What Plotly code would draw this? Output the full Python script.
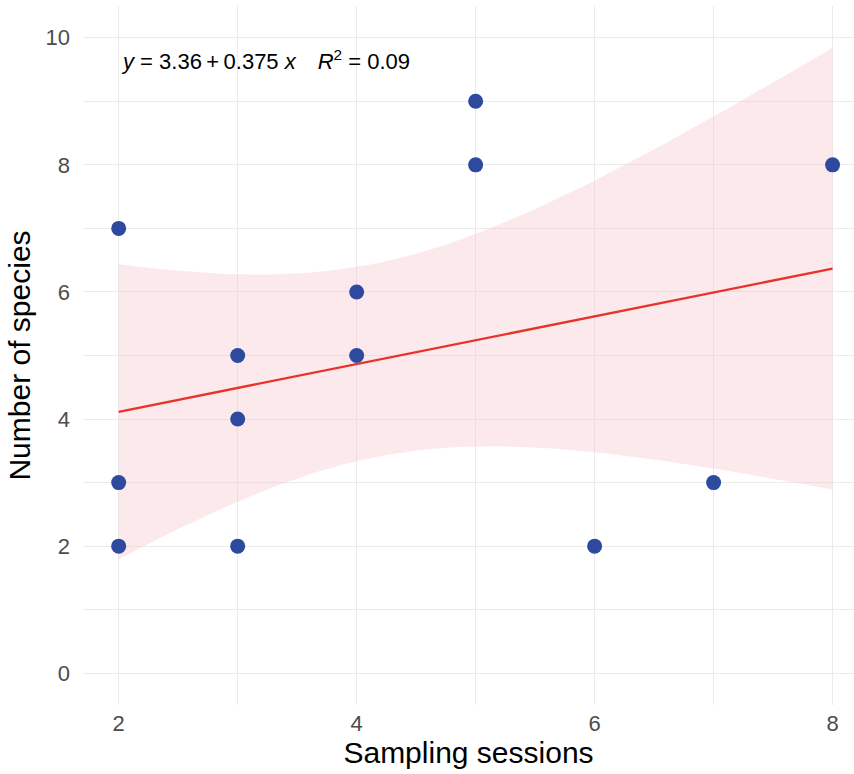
import numpy as np
import plotly.graph_objects as go

# Sampling effort vs. species richness per site
sessions = [2, 2, 2, 3, 3, 3, 4, 4, 5, 5, 6, 7, 8]
species = [7, 3, 2, 5, 4, 2, 6, 5, 9, 8, 2, 3, 8]
x_ticks = [2, 4, 6, 8]
y_ticks = [0, 2, 4, 6, 8, 10]

x = np.array(sessions, dtype=float)
y = np.array(species, dtype=float)
n = len(x)

# Ordinary least squares fit with 95% confidence band
xbar, ybar = x.mean(), y.mean()
sxx = ((x - xbar) ** 2).sum()
sxy = ((x - xbar) * (y - ybar)).sum()
syy = ((y - ybar) ** 2).sum()
slope = sxy / sxx
intercept = ybar - slope * xbar
r2 = sxy ** 2 / (sxx * syy)
s = np.sqrt((syy - sxy ** 2 / sxx) / (n - 2))
t_crit = 2.200985  # t(0.975, df = 11)

xg = np.linspace(x.min(), x.max(), 80)
fit = intercept + slope * xg
half = t_crit * s * np.sqrt(1 / n + (xg - xbar) ** 2 / sxx)
lower, upper = fit - half, fit + half

fig = go.Figure()
fig.add_trace(go.Scatter(
    x=np.concatenate([xg, xg[::-1]]),
    y=np.concatenate([upper, lower[::-1]]),
    fill="toself", fillcolor="rgba(246,196,206,0.38)",
    line=dict(width=0), mode="lines", hoverinfo="skip", showlegend=False,
))
fig.add_trace(go.Scatter(
    x=xg, y=fit, mode="lines",
    line=dict(color="#E8322B", width=2.3), showlegend=False,
))
fig.add_trace(go.Scatter(
    x=sessions, y=species, mode="markers",
    marker=dict(color="#2E4A9E", size=15, line=dict(width=0)),
    showlegend=False,
))

sp = "\u2009"
label = (f"<i>y</i> = {intercept:.2f}{sp}+{sp}{slope:.3f} <i>x</i>"
         f"\u2003<i>R</i><sup>2</sup> = {r2:.2f}")
fig.add_annotation(
    x=2.0, y=9.65, xref="x", yref="y", text=label, showarrow=False,
    xanchor="left", yanchor="middle",
    font=dict(family="Liberation Sans, Arial", size=22, color="#000000"),
)

grid = "#EBEBEB"
fig.update_layout(
    width=854, height=774,
    margin=dict(l=83, r=0, t=6, b=69),
    plot_bgcolor="white", paper_bgcolor="white",
    font=dict(family="Liberation Sans, Arial", color="#4D4D4D"),
    xaxis=dict(
        range=[1.7, 8.18], tickvals=x_ticks, ticks="",
        showgrid=True, gridcolor=grid, gridwidth=1.4,
        minor=dict(dtick=1, tick0=1, showgrid=True, gridcolor=grid, gridwidth=1.2),
        zeroline=False, showline=False,
        tickfont=dict(size=22, color="#4D4D4D"), ticklabelstandoff=3,
        title=dict(text="Sampling sessions", font=dict(size=30, color="#000000"), standoff=2),
    ),
    yaxis=dict(
        range=[-0.5, 10.5], tickvals=y_ticks, ticks="",
        showgrid=True, gridcolor=grid, gridwidth=1.4,
        minor=dict(dtick=1, tick0=1, showgrid=True, gridcolor=grid, gridwidth=1.2),
        zeroline=False, showline=False,
        tickfont=dict(size=22, color="#4D4D4D"), ticklabelstandoff=12,
        title=dict(text="Number of species", font=dict(size=30, color="#000000"), standoff=6),
    ),
)

fig.write_html("out.html")
